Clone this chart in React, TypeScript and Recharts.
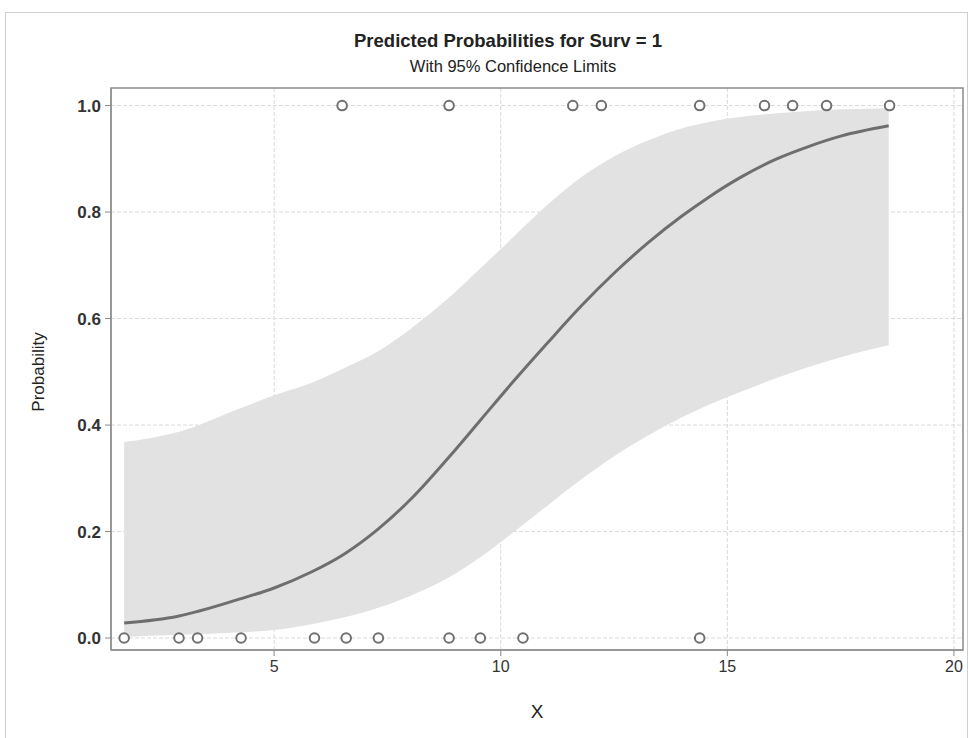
import React from "react";
import {
  ComposedChart,
  Area,
  Line,
  Scatter,
  XAxis,
  YAxis,
  CartesianGrid,
  ReferenceArea,
} from "recharts";

// predicted curve + 95% limits
const predX = [1.69, 2.88, 4.27, 5.0, 5.82, 6.55, 7.3, 8.03, 8.84, 9.57, 10.3, 11.05, 11.78, 12.51, 13.26, 13.99, 14.59, 15.31, 16.04, 16.79, 17.52, 18.56];
const predP = [0.028, 0.041, 0.074, 0.094, 0.124, 0.158, 0.205, 0.262, 0.338, 0.411, 0.484, 0.556, 0.624, 0.686, 0.743, 0.792, 0.828, 0.866, 0.898, 0.923, 0.943, 0.962];
const lowerCL = [0.002, 0.006, 0.011, 0.015, 0.026, 0.039, 0.057, 0.08, 0.113, 0.153, 0.2, 0.25, 0.298, 0.342, 0.381, 0.414, 0.438, 0.463, 0.487, 0.509, 0.528, 0.55];
const upperCL = [0.368, 0.387, 0.432, 0.456, 0.479, 0.507, 0.539, 0.582, 0.638, 0.696, 0.755, 0.815, 0.866, 0.905, 0.935, 0.957, 0.969, 0.979, 0.985, 0.99, 0.993, 0.995];

// observed X by outcome
const survZeroX = [1.69, 2.9, 3.31, 4.27, 5.89, 6.59, 7.3, 8.86, 9.55, 10.49, 14.39];
const survOneX = [6.5, 8.86, 11.59, 12.22, 14.39, 15.82, 16.44, 17.19, 18.58];

const xTicks = [5, 10, 15, 20];
const yTicks = [0, 0.2, 0.4, 0.6, 0.8, 1.0];

const FONT = "'Liberation Sans', Arial, sans-serif";

const band = predX.map((x, i) => ({
  x,
  p: predP[i],
  ci: [lowerCL[i], upperCL[i]],
}));

const observed = [
  ...survZeroX.map((x) => ({ x, y: 0 })),
  ...survOneX.map((x) => ({ x, y: 1 })),
];

function OpenCircle(props: any) {
  const { cx, cy } = props;
  if (cx == null || cy == null) return null;
  return <circle cx={cx} cy={cy} r={4.8} fill="#fff" stroke="#707070" strokeWidth={2} />;
}

export default function App() {
  return (
    <div
      style={{
        position: "absolute",
        left: 0,
        top: 0,
        width: 968,
        height: 738,
        background: "#fff",
        fontFamily: FONT,
      }}
    >
      <div
        style={{
          position: "absolute",
          left: 5,
          top: 12,
          width: 961,
          height: 730,
          border: "1px solid #cfcfcf",
        }}
      />
      <div
        style={{
          position: "absolute",
          left: 0,
          width: 1016,
          top: 30,
          textAlign: "center",
          fontSize: 18.5,
          fontWeight: "bold",
          color: "#222",
        }}
      >
        Predicted Probabilities for Surv = 1
      </div>
      <div
        style={{
          position: "absolute",
          left: 0,
          width: 1026,
          top: 57,
          textAlign: "center",
          fontSize: 16.5,
          color: "#222",
        }}
      >
        With 95% Confidence Limits
      </div>
      <div
        style={{
          position: "absolute",
          left: 39,
          top: 372,
          transform: "translate(-50%, -50%) rotate(-90deg)",
          fontSize: 17,
          color: "#222",
          whiteSpace: "nowrap",
        }}
      >
        Probability
      </div>
      <div
        style={{
          position: "absolute",
          left: 537,
          top: 712,
          transform: "translate(-50%, -50%)",
          fontSize: 19,
          color: "#222",
        }}
      >
        X
      </div>
      <div style={{ position: "absolute", left: 0, top: 0 }}>
        <ComposedChart
          width={968}
          height={738}
          data={band}
          margin={{ top: 88, right: 5, left: 51, bottom: 58 }}
        >
          <CartesianGrid
            stroke="#dadada"
            strokeDasharray="4 2"
            horizontalValues={yTicks}
            verticalValues={xTicks}
          />
          <XAxis
            dataKey="x"
            type="number"
            domain={[1.4, 20.2]}
            ticks={xTicks}
            allowDataOverflow
            tick={{ fontSize: 16, fill: "#333", fontFamily: FONT }}
            tickSize={6}
            tickMargin={5}
            stroke="#8a8a8a"
            height={30}
          />
          <YAxis
            type="number"
            domain={[-0.0225, 1.033]}
            ticks={yTicks}
            allowDataOverflow
            tickFormatter={(v: number) => v.toFixed(1)}
            tick={{ fontSize: 17, fill: "#333", fontFamily: FONT, fontWeight: "bold" }}
            tickSize={6}
            tickMargin={4}
            stroke="#8a8a8a"
            width={60}
          />
          <Area
            dataKey="ci"
            type="monotone"
            stroke="none"
            fill="#e2e2e2"
            fillOpacity={1}
            isAnimationActive={false}
          />
          <Line
            dataKey="p"
            type="monotone"
            stroke="#6e6e6e"
            strokeWidth={3}
            dot={false}
            isAnimationActive={false}
          />
          <Scatter
            data={observed}
            dataKey="y"
            shape={OpenCircle}
            isAnimationActive={false}
          />
          <ReferenceArea
            x1={1.4}
            x2={20.2}
            y1={-0.0225}
            y2={1.033}
            fill="none"
            stroke="#8a8a8a"
            strokeWidth={1.5}
          />
        </ComposedChart>
      </div>
    </div>
  );
}
